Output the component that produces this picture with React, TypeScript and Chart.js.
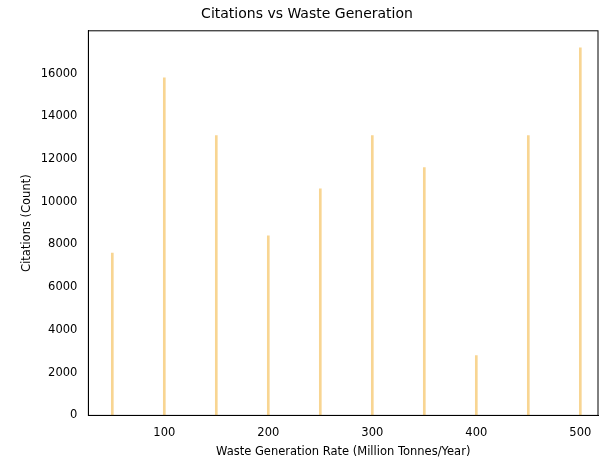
import { useEffect, useRef } from "react"
import { Chart, registerables } from "chart.js"

Chart.register(...registerables)

const wasteRates = [50, 100, 150, 200, 250, 300, 350, 400, 450, 500]
const citations = [7600, 15800, 13100, 8400, 10600, 13100, 11600, 2800, 13100, 17200]
const xTicks = [100, 200, 300, 400, 500]
const yTicks = [0, 2000, 4000, 6000, 8000, 10000, 12000, 14000, 16000]

// matplotlib-style box around the plot area
const frame = {
  id: "frame",
  afterDraw(chart: Chart) {
    const { ctx, chartArea: a } = chart
    ctx.save()
    ctx.strokeStyle = "#000"
    ctx.lineWidth = 1
    ctx.strokeRect(a.left, a.top, a.right - a.left, a.bottom - a.top)
    ctx.restore()
  },
}

export default function App() {
  const canvasRef = useRef<HTMLCanvasElement>(null)

  useEffect(() => {
    document.body.style.margin = "0"
    if (!canvasRef.current) return
    const font = { family: "DejaVu Sans", size: 11.5 }
    const chart = new Chart(canvasRef.current, {
      type: "bar",
      data: {
        datasets: [
          {
            data: wasteRates.map((x, i) => ({ x, y: citations[i] })),
            backgroundColor: "rgba(245, 195, 100, 0.7)",
            barThickness: 2,
          },
        ],
      },
      options: {
        animation: false,
        responsive: false,
        layout: { padding: { left: 16, right: 2, top: 4, bottom: 4 } },
        plugins: {
          legend: { display: false },
          title: {
            display: true,
            text: "Citations vs Waste Generation",
            color: "#000",
            font: { family: "DejaVu Sans", size: 14, weight: "normal" },
            padding: { top: 2, bottom: 8 },
          },
        },
        scales: {
          x: {
            type: "linear",
            offset: false,
            min: 27,
            max: 517,
            grid: { display: false },
            border: { color: "#000" },
            ticks: { color: "#000", font },
            afterBuildTicks: (axis) => {
              axis.ticks = xTicks.map((v) => ({ value: v }))
            },
            title: { display: true, text: "Waste Generation Rate (Million Tonnes/Year)", color: "#000", font, padding: 2 },
          },
          y: {
            min: 0,
            max: 18000,
            grid: { display: false },
            border: { color: "#000" },
            ticks: { color: "#000", font, callback: (v) => String(v) },
            afterBuildTicks: (axis) => {
              axis.ticks = yTicks.map((v) => ({ value: v }))
            },
            title: { display: true, text: "Citations (Count)", color: "#000", font },
          },
        },
      },
      plugins: [frame],
    })
    return () => chart.destroy()
  }, [])

  return <canvas ref={canvasRef} width={600} height={465} style={{ display: "block", background: "#fff" }} />
}
